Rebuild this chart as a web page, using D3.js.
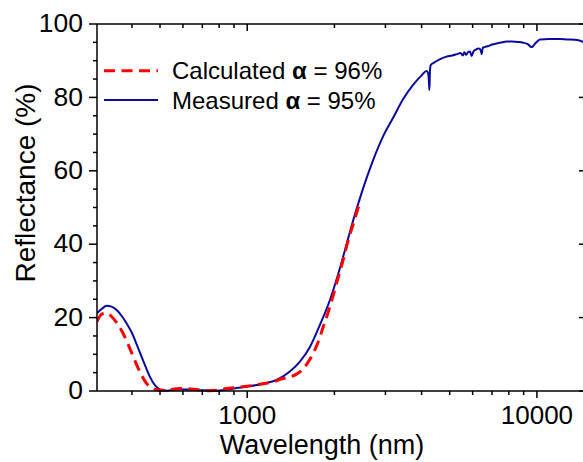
<!DOCTYPE html>
<html><head><meta charset="utf-8">
<script src="https://cdn.jsdelivr.net/npm/d3@7"></script>
<style>
html,body{margin:0;padding:0;background:#fff;}
svg{display:block;font-family:"Liberation Sans",Arial,sans-serif;}
</style></head>
<body>
<svg id="chart" width="583" height="462"></svg>
<script>
// ---- data ----
const measuredWavelength = [303,315,327,340,355,370,385,400,415,430,445,461,480,500,530,571,620,700,784,850,920,1000,1135,1263,1403,1520,1646,1782,1930,2090,2203,2322,2483,2723,2950,3192,3450,3743,4000,4160,4215,4240,4255,4275,4300,4400,4600,4876,5100,5300,5450,5550,5620,5700,5800,5876,5950,6050,6150,6300,6400,6450,6500,6600,6800,7000,7260,7600,7850,8200,8600,8970,9300,9580,9900,10250,11000,12000,12680,13500,14000,14540];
const measuredReflectance = [21.2,22.4,23.2,23.0,22.0,20.3,18.2,15.8,12.8,9.7,6.8,3.9,1.6,0.4,0.1,0.5,0.4,0.2,0.1,0.4,0.8,1.2,2.0,3.0,5.3,8.0,12.0,18.0,24.8,33.5,40.0,46.5,54.0,63.0,69.5,74.5,79.5,83.5,86.0,87.2,86.5,84.0,82.0,87.5,88.8,89.4,90.3,91.1,91.4,91.8,92.1,91.4,92.3,91.6,92.4,92.5,91.3,92.6,93.0,93.3,92.8,91.8,93.5,93.7,94.0,94.4,94.7,95.0,95.2,95.2,95.1,94.9,94.5,93.7,94.8,95.8,95.9,95.9,95.8,95.7,95.5,95.0];
const calculatedWavelength = [303,313,325,340,355,370,390,405,415,430,450,470,490,520,585,650,740,800,849,920,1000,1135,1230,1300,1400,1480,1560,1620,1690,1760,1830,1930,2036,2140,2230,2333,2460];
const calculatedReflectance = [18.9,20.8,21.3,20.3,18.5,16.2,12.3,9.2,7.2,4.6,2.0,0.8,0.3,0.2,0.7,0.5,0.1,0.3,0.7,1.0,1.3,2.0,2.5,3.2,3.8,4.6,6.0,7.8,10.3,13.5,17.5,23.0,29.5,35.5,41.0,46.0,52.0];
const xMajorTicks = [1000,10000];
const xMinorTicks = [400,500,600,700,800,900,2000,3000,4000,5000,6000,7000,8000,9000];
const yMajorTicks = [0,20,40,60,80,100];
const yMinorTicks = [5,10,15,25,30,35,45,50,55,65,70,75,85,90,95];
const legendLabels = ["Calculated", "Measured"];
const legendAlpha = ["96%", "95%"];
const xTitle = "Wavelength (nm)";
const yTitle = "Reflectance (%)";

// ---- layout ----
const L = 97, R = 584, T = 24, B = 391;
const blue = "#0a0a9e", red = "#ff0000";
const svg = d3.select("#chart");
const x = d3.scaleLog().domain([303, 14540]).range([L, R]);
const y = d3.scaleLinear().domain([0, 100]).range([B, T]);

svg.append("defs").append("clipPath").attr("id","clip")
  .append("rect").attr("x",L).attr("y",T-5).attr("width",R-L).attr("height",B-T+10);

const line = d3.line().x(d=>x(d[0])).y(d=>y(d[1])).curve(d3.curveMonotoneX);
const meas = measuredWavelength.map((w,i)=>[w, measuredReflectance[i]]);
const calc = calculatedWavelength.map((w,i)=>[w, calculatedReflectance[i]]);

const g = svg.append("g").attr("clip-path","url(#clip)");
g.append("path").datum(meas).attr("d",line).attr("fill","none")
  .attr("stroke",blue).attr("stroke-width",2);
g.append("path").datum(calc).attr("d",line).attr("fill","none")
  .attr("stroke",red).attr("stroke-width",3).attr("stroke-dasharray","11,6.5");

// ---- axes ----
const ax = svg.append("g").attr("stroke","#000").attr("stroke-width",1.5);
ax.append("line").attr("x1",L).attr("x2",R).attr("y1",B).attr("y2",B);
ax.append("line").attr("x1",L).attr("x2",R).attr("y1",T).attr("y2",T);
ax.append("line").attr("x1",L).attr("x2",L).attr("y1",T).attr("y2",B);
ax.append("line").attr("x1",R).attr("x2",R).attr("y1",T).attr("y2",B);

xMajorTicks.forEach(v=>{
  ax.append("line").attr("x1",x(v)).attr("x2",x(v)).attr("y1",B).attr("y2",B+7);
  ax.append("line").attr("x1",x(v)).attr("x2",x(v)).attr("y1",T).attr("y2",T+7);
});
xMinorTicks.forEach(v=>{
  ax.append("line").attr("x1",x(v)).attr("x2",x(v)).attr("y1",B).attr("y2",B+4);
  ax.append("line").attr("x1",x(v)).attr("x2",x(v)).attr("y1",T).attr("y2",T+4);
});
yMajorTicks.forEach(v=>{
  ax.append("line").attr("x1",L-8).attr("x2",L).attr("y1",y(v)).attr("y2",y(v));
  ax.append("line").attr("x1",R-5).attr("x2",R).attr("y1",y(v)).attr("y2",y(v));
});
yMinorTicks.forEach(v=>{
  ax.append("line").attr("x1",L-4).attr("x2",L).attr("y1",y(v)).attr("y2",y(v));
});

// tick labels
svg.append("g").selectAll("text").data(yMajorTicks).join("text")
  .attr("x",83).attr("y",d=>y(d)+8.2).attr("text-anchor","end")
  .attr("font-size",26.5).text(d=>d);
svg.append("g").selectAll("text").data(xMajorTicks).join("text")
  .attr("x",d=>x(d)).attr("y",423.5).attr("text-anchor","middle")
  .attr("font-size",26).text(d=>d);

// titles
svg.append("text").attr("x",322).attr("y",454).attr("text-anchor","middle")
  .attr("font-size",27).text(xTitle);
svg.append("text").attr("transform","translate(35,183) rotate(-90)")
  .attr("text-anchor","middle").attr("font-size",28).text(yTitle);

// legend
const legY = [70.7, 100];
const legStyle = [{c:red,w:3,d:"11,6.5"},{c:blue,w:2,d:null}];
legendLabels.forEach((lab,i)=>{
  svg.append("line").attr("x1",104).attr("x2",158).attr("y1",legY[i]).attr("y2",legY[i])
    .attr("stroke",legStyle[i].c).attr("stroke-width",legStyle[i].w)
    .attr("stroke-dasharray",legStyle[i].d);
  const t = svg.append("text").attr("x",172).attr("y",legY[i]+8.5).attr("font-size",24);
  t.append("tspan").text(lab+" ");
  t.append("tspan").attr("font-weight","bold").text("α");
  t.append("tspan").text(" = "+legendAlpha[i]);
});
</script>
</body></html>
